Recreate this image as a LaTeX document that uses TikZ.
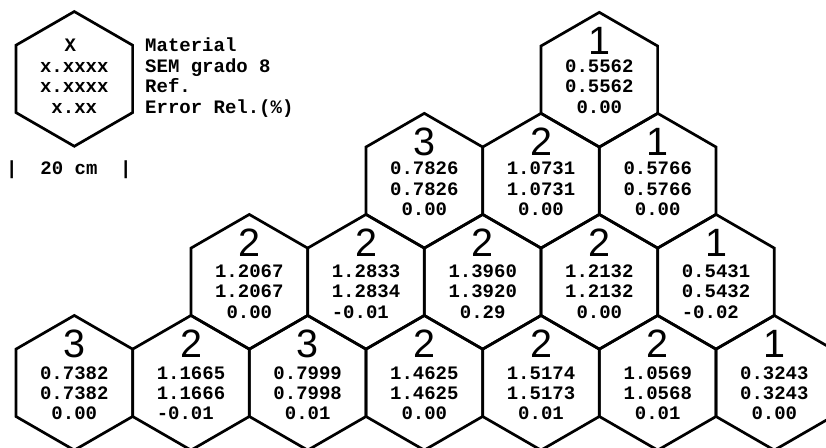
\documentclass[tikz,border=0pt]{standalone}
\usepackage{fontspec}
\setmonofont{Liberation Mono}
\newfontfamily\digitfont{Liberation Sans}
\usetikzlibrary{shapes.geometric,calc}

\tikzset{
  hexa/.style={regular polygon, regular polygon sides=6, shape border rotate=30,
    minimum size=134.7pt, inner sep=0pt, outer sep=0pt, draw, line width=2.7pt,
    line join=miter},
  val/.style={font=\ttfamily\bfseries\fontsize{19}{20}\selectfont, inner sep=0pt, anchor=base},
  lab/.style={val, anchor=base west},
  big/.style={font=\digitfont\fontsize{39.5}{40}\selectfont, inner sep=0pt,
    text height=28pt, text depth=0pt, anchor=base},
}

% one cell: name, x, y, class digit, value, reference, error, first baseline offset
\newcommand\hexcell[8]{%
  \node[hexa] (#1) at (#2,#3) {};
  \node[big] (#1-d) at ($(#1.center)+(0,-25.2)$) {#4};
  \node[val] (#1-a) at ($(#1.center)+(0,#8)$) {#5};
  \node[val] (#1-b) at ($(#1.center)+(0,#8+20.3)$) {#6};
  \node[val] (#1-c) at ($(#1.center)+(0,#8+40.6)$) {#7};
}

\begin{document}
\begin{tikzpicture}[x=1pt,y=-1pt]
\useasboundingbox (0,0) rectangle (826,447);
\clip (0,0) rectangle (826,447);

% key
\node[hexa] (key) at (74.3,78.9) {};
\node[val] (key-d) at ($(key.center)+(-4,-27.2)$) {X};
\node[val] (key-a) at ($(key.center)+(0,-6.2)$) {x.xxxx};
\node[val] (key-b) at ($(key.center)+(0,13.8)$) {x.xxxx};
\node[val] (key-c) at ($(key.center)+(0,34.4)$) {x.xx};
\node[lab] (key-l1) at (145,51.7) {Material};
\node[lab] (key-l2) at (145,72.7) {SEM grado 8};
\node[lab] (key-l3) at (145,92.7) {Ref.};
\node[lab] (key-l4) at (145,113.3) {Error Rel.(\%)};
\node[lab] (scale) at (6,174) {|\ \ 20 cm\ \ |};

% row 1
\hexcell{h11}{599.3}{79.7}{1}{0.5562}{0.5562}{0.00}{-7.2}
% row 2
\hexcell{h21}{424.3}{180.7}{3}{0.7826}{0.7826}{0.00}{-5.9}
\hexcell{h22}{541.0}{180.7}{2}{1.0731}{1.0731}{0.00}{-5.9}
\hexcell{h23}{657.7}{180.7}{1}{0.5766}{0.5766}{0.00}{-5.9}
% row 3
\hexcell{h31}{249.3}{281.8}{2}{1.2067}{1.2067}{0.00}{-4.3}
\hexcell{h32}{366.0}{281.8}{2}{1.2833}{1.2834}{\llap{-}0.01}{-4.3}
\hexcell{h33}{482.7}{281.8}{2}{1.3960}{1.3920}{0.29}{-4.3}
\hexcell{h34}{599.3}{281.8}{2}{1.2132}{1.2132}{0.00}{-4.3}
\hexcell{h35}{716.0}{281.8}{1}{0.5431}{0.5432}{\llap{-}0.02}{-4.3}
% row 4
\hexcell{h41}{74.3}{382.8}{3}{0.7382}{0.7382}{0.00}{-3.5}
\hexcell{h42}{191.0}{382.8}{2}{1.1665}{1.1666}{\llap{-}0.01}{-3.5}
\hexcell{h43}{307.7}{382.8}{3}{0.7999}{0.7998}{0.01}{-3.5}
\hexcell{h44}{424.3}{382.8}{2}{1.4625}{1.4625}{0.00}{-3.5}
\hexcell{h45}{541.0}{382.8}{2}{1.5174}{1.5173}{0.01}{-3.5}
\hexcell{h46}{657.7}{382.8}{2}{1.0569}{1.0568}{0.01}{-3.5}
\hexcell{h47}{774.3}{382.8}{1}{0.3243}{0.3243}{0.00}{-3.5}
\end{tikzpicture}
\end{document}
